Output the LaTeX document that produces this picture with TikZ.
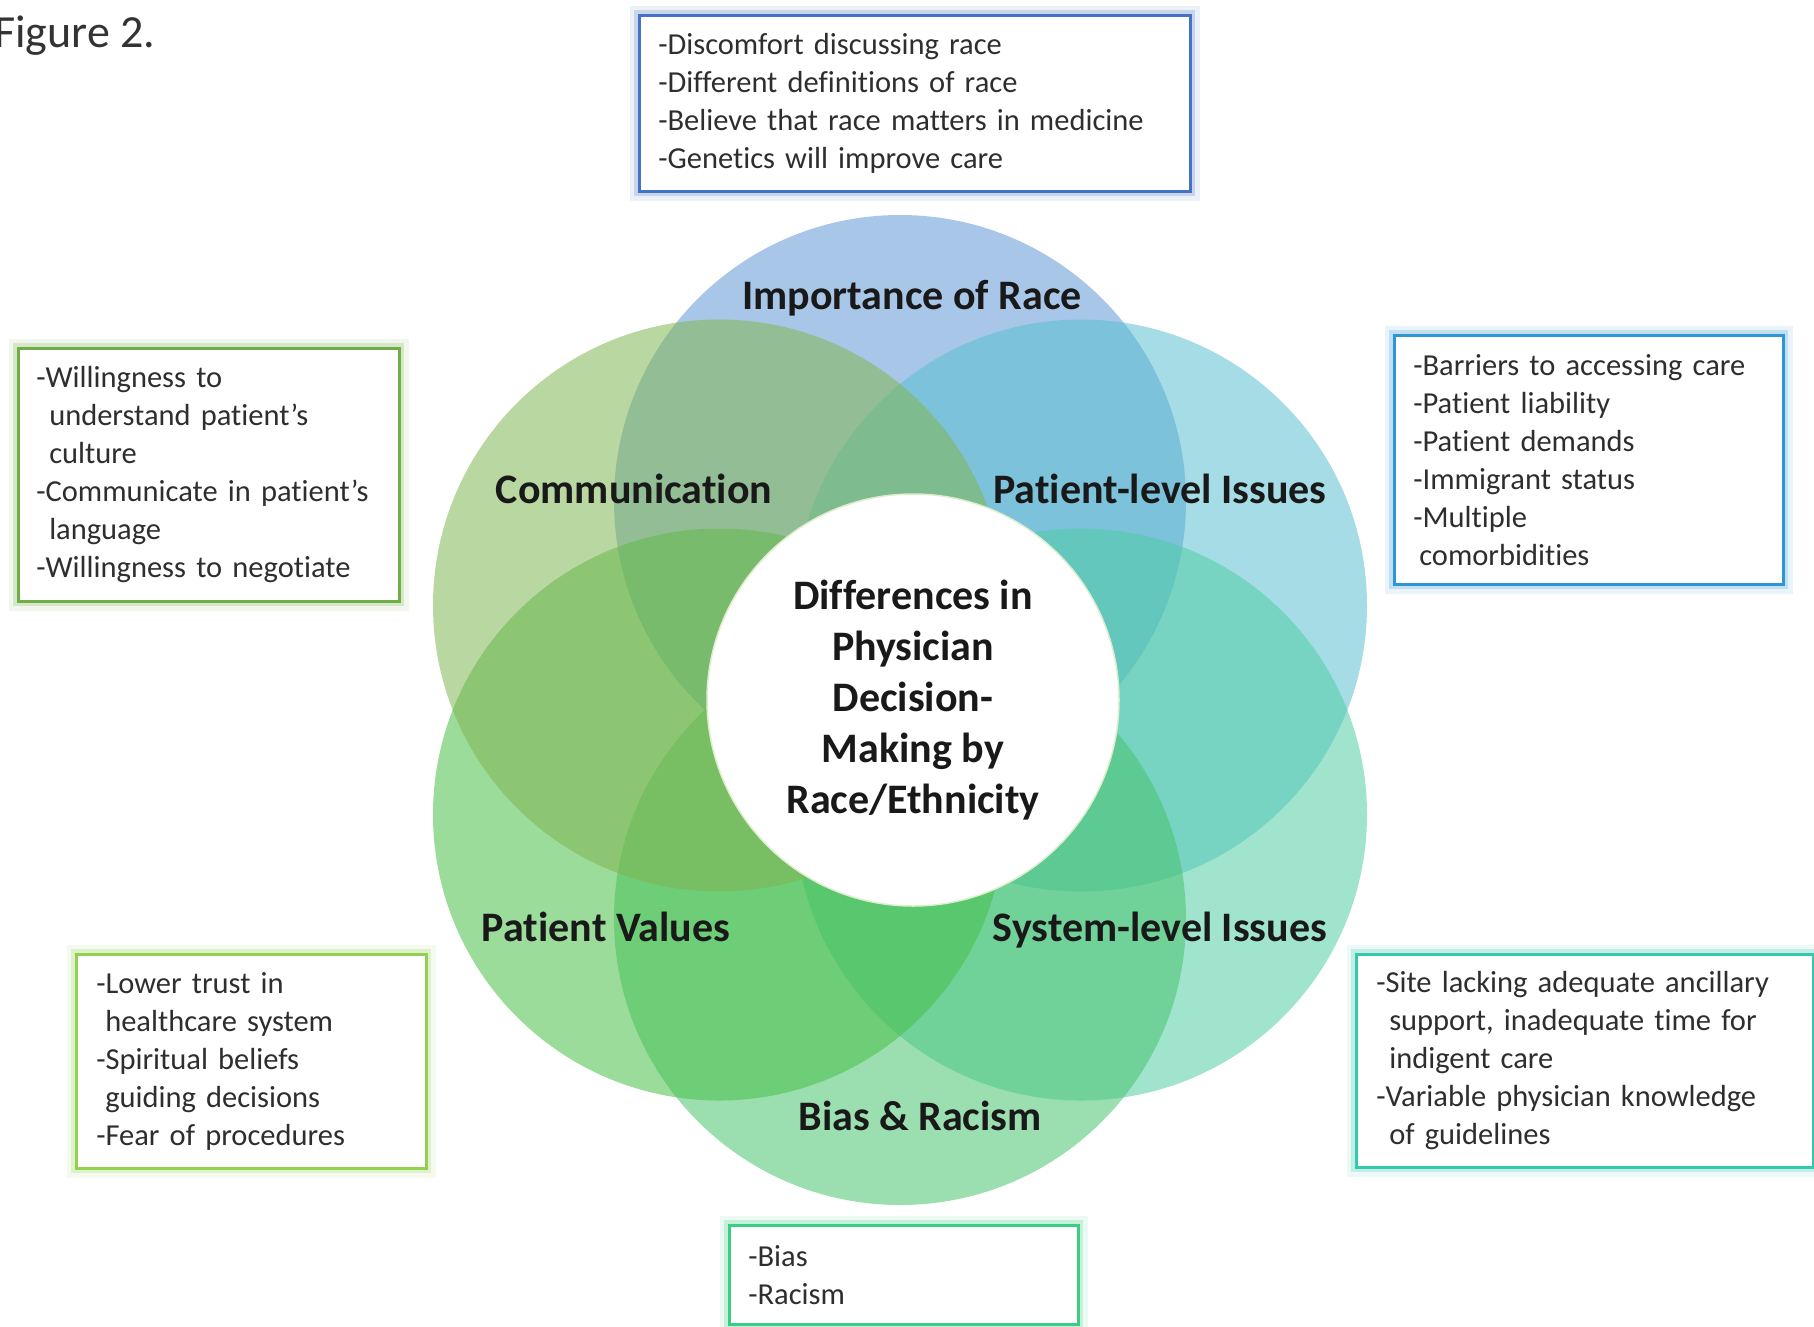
\documentclass[tikz,border=0pt]{standalone}
\usepackage{fontspec}
\setmainfont{Carlito}[Ligatures=NoCommon]
\definecolor{cTop}{RGB}{68,114,196}
\definecolor{cComm}{RGB}{112,173,71}
\definecolor{cPL}{RGB}{46,150,215}
\definecolor{cPV}{RGB}{146,208,80}
\definecolor{cSL}{RGB}{52,200,175}
\definecolor{cBias}{RGB}{60,205,130}
\definecolor{pTop}{RGB}{97,151,213}
\definecolor{pComm}{RGB}{128,182,82}
\definecolor{pPL}{RGB}{91,191,210}
\definecolor{pPV}{RGB}{73,191,73}
\definecolor{pSL}{RGB}{82,206,164}
\definecolor{pBias}{RGB}{73,195,110}
\definecolor{coreEdge}{RGB}{222,238,205}
\begin{document}
\begin{tikzpicture}[x=1pt,y=-1pt,
  petal/.style={fill=#1, fill opacity=0.55},
  lbl/.style={font=\fontsize{42}{52}\selectfont\bfseries, text=black!90, inner sep=0pt, anchor=base},
  infobox/.style={rectangle, draw=#1, line width=2.5pt, fill=white, anchor=north west,
     align=left, inner ysep=0pt, inner xsep=19pt, text=black!82,
     font=\fontsize{30.5}{38}\selectfont,
     preaction={draw=#1!25!white, line width=19pt, draw opacity=0.4},
     preaction={draw=#1!45!white, line width=10pt, draw opacity=0.55}},
]
\useasboundingbox (0,0) rectangle (1814,1326);

% petals
\fill[petal=pTop]  (900,501)   circle[radius=286pt];
\fill[petal=pPL]   (1081,605.5) circle[radius=286pt];
\fill[petal=pSL]   (1081,814.5) circle[radius=286pt];
\fill[petal=pBias] (900,919)   circle[radius=286pt];
\fill[petal=pPV]   (719,814.5) circle[radius=286pt];
\fill[petal=pComm] (719,605.5) circle[radius=286pt];

% center
\node[circle, fill=white, draw=coreEdge, line width=1.5pt, minimum size=412pt, inner sep=0pt,
      align=center, font=\fontsize{42}{51}\selectfont\bfseries, text=black!90] (core) at (913,700)
  {Differences in\\Physician\\Decision-\\Making by\\Race/Ethnicity};

% petal labels
\node[lbl] (lRace) at (912,309)  {Importance of Race};
\node[lbl] (lComm) at (634,503)  {Communication};
\node[lbl] (lPL)   at (1160,503) {Patient-level Issues};
\node[lbl] (lPV)   at (606,941)  {Patient Values};
\node[lbl] (lSL)   at (1160,941) {System-level Issues};
\node[lbl] (lBias) at (920,1130) {Bias \& Racism};

% figure caption
\node[anchor=base west, inner sep=0pt, font=\fontsize{46}{55}\selectfont, text=black!80] (fig) at (-6,47) {Figure 2.};

% info boxes
\node[infobox=cTop, text width=513pt, minimum height=176pt] (bRace) at (638,14)
  {-Discomfort discussing race\\-Different definitions of race\\-Believe that race matters in medicine\\-Genetics will improve care};
\node[infobox=cComm, inner xsep=18pt, text width=345pt, minimum height=253pt] (bComm) at (17,347)
  {-Willingness to\\\hspace*{13pt}understand patient’s\\\hspace*{13pt}culture\\-Communicate in patient’s\\\hspace*{13pt}language\\-Willingness to negotiate};
\node[infobox=cPL, text width=351pt, minimum height=249pt] (bPL) at (1393,334)
  {-Barriers to accessing care\\-Patient liability\\-Patient demands\\-Immigrant status\\-Multiple\\\hspace*{6pt}comorbidities};
\node[infobox=cPV, inner xsep=20pt, text width=310pt, minimum height=214pt] (bPV) at (75,953)
  {-Lower trust in\\\hspace*{9pt}healthcare system\\-Spiritual beliefs\\\hspace*{9pt}guiding decisions\\-Fear of procedures};
\node[infobox=cSL, inner xsep=20pt, text width=417pt, minimum height=213pt] (bSL) at (1355,953)
  {-Site lacking adequate ancillary\\\hspace*{13pt}support, inadequate time for\\\hspace*{13pt}indigent care\\-Variable physician knowledge\\\hspace*{13pt}of guidelines};
\node[infobox=cBias, text width=311pt, minimum height=99pt] (bBias) at (728,1224)
  {-Bias\\-Racism};
\end{tikzpicture}
\end{document}
